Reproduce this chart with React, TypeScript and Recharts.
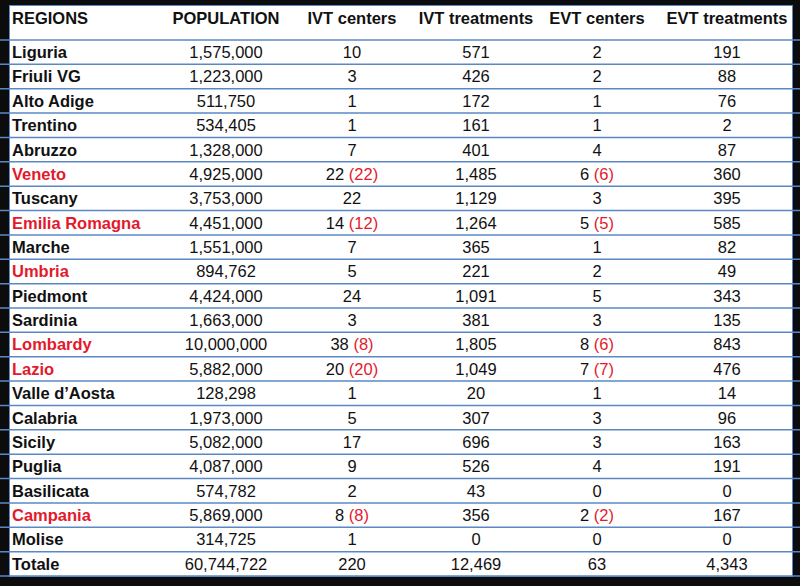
import React from 'react';
import { ComposedChart, Scatter, XAxis, YAxis, ReferenceLine } from 'recharts';

const HEADERS = ['REGIONS', 'POPULATION', 'IVT centers', 'IVT treatments', 'EVT centers', 'EVT treatments'];

const REGIONS = [
  'Liguria', 'Friuli VG', 'Alto Adige', 'Trentino', 'Abruzzo', 'Veneto', 'Tuscany', 'Emilia Romagna',
  'Marche', 'Umbria', 'Piedmont', 'Sardinia', 'Lombardy', 'Lazio', 'Valle d\u2019Aosta', 'Calabria',
  'Sicily', 'Puglia', 'Basilicata', 'Campania', 'Molise', 'Totale',
];
const RED_REGIONS = ['Veneto', 'Emilia Romagna', 'Umbria', 'Lombardy', 'Lazio', 'Campania'];

const POPULATION = [
  '1,575,000', '1,223,000', '511,750', '534,405', '1,328,000', '4,925,000', '3,753,000', '4,451,000',
  '1,551,000', '894,762', '4,424,000', '1,663,000', '10,000,000', '5,882,000', '128,298', '1,973,000',
  '5,082,000', '4,087,000', '574,782', '5,869,000', '314,725', '60,744,722',
];
const IVT_CENTERS = ['10', '3', '1', '1', '7', '22', '22', '14', '7', '5', '24', '3', '38', '20', '1', '5', '17', '9', '2', '8', '1', '220'];
const IVT_CENTERS_RED = ['', '', '', '', '', '22', '', '12', '', '', '', '', '8', '20', '', '', '', '', '', '8', '', ''];
const IVT_TREATMENTS = [
  '571', '426', '172', '161', '401', '1,485', '1,129', '1,264', '365', '221', '1,091', '381', '1,805', '1,049',
  '20', '307', '696', '526', '43', '356', '0', '12,469',
];
const EVT_CENTERS = ['2', '2', '1', '1', '4', '6', '3', '5', '1', '2', '5', '3', '8', '7', '1', '3', '3', '4', '0', '2', '0', '63'];
const EVT_CENTERS_RED = ['', '', '', '', '', '6', '', '5', '', '', '', '', '6', '7', '', '', '', '', '', '2', '', ''];
const EVT_TREATMENTS = [
  '191', '88', '76', '2', '87', '360', '395', '585', '82', '49', '343', '135', '843', '476', '14', '96',
  '163', '191', '0', '167', '0', '4,343',
];

// layout: horizontal position of each column (page px)
const COL_X = [12, 226, 352, 476, 597, 727];
const ROW_LINES = REGIONS.map((_, i) => i).concat([REGIONS.length]);

const FONT = '"Liberation Sans", Arial, sans-serif';
const RED = '#e3192c';
const BLUE = '#5b88c4';

type Cell = { x: number; y: number; text: string; red?: string; bold?: boolean; color?: string; anchor?: string };

const cells: Cell[] = [];
REGIONS.forEach((r, i) => {
  const y = i + 0.5;
  cells.push({ x: COL_X[0], y, text: r, bold: true, anchor: 'start', color: RED_REGIONS.includes(r) ? RED : '#111' });
  cells.push({ x: COL_X[1], y, text: POPULATION[i] });
  cells.push({ x: COL_X[2], y, text: IVT_CENTERS[i], red: IVT_CENTERS_RED[i] });
  cells.push({ x: COL_X[3], y, text: IVT_TREATMENTS[i] });
  cells.push({ x: COL_X[4], y, text: EVT_CENTERS[i], red: EVT_CENTERS_RED[i] });
  cells.push({ x: COL_X[5], y, text: EVT_TREATMENTS[i] });
});

const CellText = (props: any) => {
  const { cx, cy, payload } = props;
  const c: Cell = payload;
  return (
    <text
      x={cx}
      y={cy}
      dy="0.36em"
      textAnchor={c.anchor || 'middle'}
      fontFamily={FONT}
      fontSize={16.5}
      fontWeight={c.bold ? 'bold' : 'normal'}
      fill={c.color || '#111'}
    >
      {c.text}
      {c.red ? <tspan fill={RED}>{` (${c.red})`}</tspan> : null}
    </text>
  );
};

const HeaderTick = (props: any) => {
  const { x, y, payload, index } = props;
  return (
    <text
      x={x}
      y={y}
      dy={-14}
      textAnchor={index === 0 ? 'start' : 'middle'}
      fontFamily={FONT}
      fontSize={16.5}
      fontWeight="bold"
      fill="#111"
    >
      {HEADERS[COL_X.indexOf(payload.value)]}
    </text>
  );
};

export default function App() {
  return (
    <div style={{ position: 'absolute', left: 0, top: 0, width: 800, height: 586, background: '#0c0c0c' }}>
      <div
        style={{
          position: 'absolute',
          left: 9,
          top: 5,
          width: 784,
          height: 572,
          background: '#fff',
          boxSizing: 'border-box',
          border: `1px solid ${BLUE}`,
        }}
      />
      <div style={{ position: 'absolute', left: 0, top: 0 }}>
        <ComposedChart width={800} height={586} data={cells} margin={{ top: 6, right: 0, bottom: 10, left: 0 }}>
          <XAxis
            type="number"
            dataKey="x"
            orientation="top"
            domain={[0, 800]}
            ticks={COL_X}
            interval={0}
            height={34}
            axisLine={false}
            tickLine={false}
            tickSize={0}
            tickMargin={2}
            tick={<HeaderTick />}
          />
          <YAxis
            type="number"
            dataKey="y"
            domain={[0, REGIONS.length]}
            reversed
            width={0}
            hide
          />
          {ROW_LINES.map((v) => (
            <ReferenceLine key={v} y={v} stroke={BLUE} strokeWidth={1.5} segment={[{ x: 9, y: v }, { x: 793, y: v }]} />
          ))}
          <Scatter data={cells} shape={<CellText />} isAnimationActive={false} />
        </ComposedChart>
      </div>
    </div>
  );
}
